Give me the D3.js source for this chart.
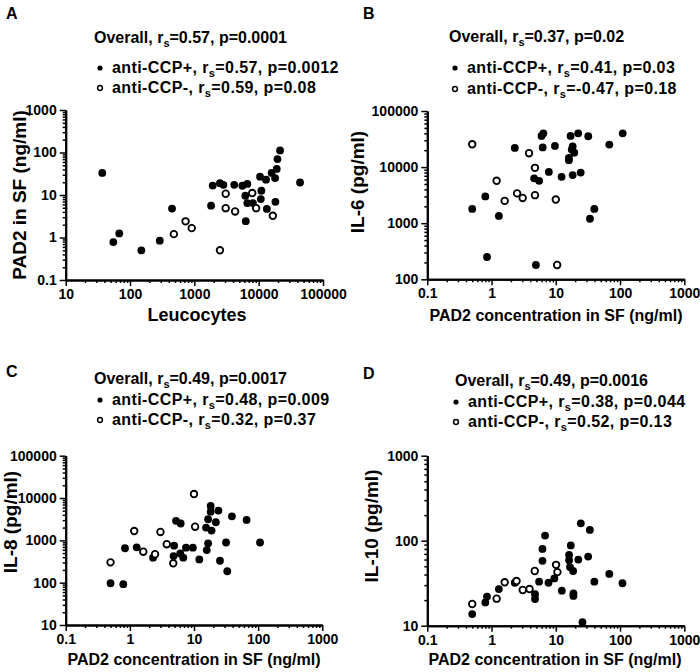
<!DOCTYPE html>
<html><head><meta charset="utf-8">
<script src="https://cdn.jsdelivr.net/npm/d3@7"></script>
<style>
body{margin:0;background:#fff;}
svg text{font-family:"Liberation Sans",Arial,sans-serif;font-weight:bold;fill:#000;}
</style></head>
<body><svg id="c" width="700" height="672"></svg>
<script>
// ---------- DATA ----------
// Panel A: Leucocytes vs PAD2 in SF
const leucoPos = [37,55,68,150,290,450,1820,1930,2500,2830,4170,5580,6660,6200,6660,8130,6300,10500,13000,11000,10800,13400,15900,18000,18200,19100,19600,21500,44000];
const padPosA  = [33,0.78,1.25,0.5,0.84,4.8,5.6,16.7,19,17.4,17.4,16.5,18.2,9.6,6.45,6.45,2.42,27,23,12.6,8.0,4.7,33,25,6.9,41,70,112,19.7];
const leucoNeg = [480,730,910,2500,3070,3070,4300,7940,9130,16600];
const padNegA  = [1.2,2.4,1.66,0.5,10.7,4.9,4.1,11.1,4.9,3.24];

// Panel B: PAD2 vs IL-6
const padPosB = [6.4,6.0,17,22.3,32,110,68,6.25,9.7,18.3,17.7,19.4,16,16,7.8,12.3,18.3,24.4,4.6,5.5,39.8,34,0.5,0.8,0.85,1.3,2.3,4.9];
const il6Pos  = [40000,36000,36000,40000,35500,40000,25200,22400,23800,23500,20500,18100,14600,13300,8200,6700,7200,8000,6300,5700,1800,1200,1800,3000,250,1350,22000,180];
const padNegB = [0.5,1.2,1.6,2.5,3.05,3.83,4.74,4.74,10,10.5];
const il6Neg  = [25500,5700,2500,3400,2820,17700,9700,3160,2640,180];

// Panel C: PAD2 vs IL-8
const padPosC = [0.5,0.79,0.84,1.28,2.3,4.9,4.8,5.25,6.2,6.1,6.8,7.5,9.6,12.1,15.4,18.2,18.2,24,16.6,21.9,18.8,16.6,15.8,25.4,33,31.6,39,66,107];
const il8Pos  = [97,92,650,686,390,750,426,2900,2500,490,390,670,670,355,2000,6500,4750,5050,3150,2680,1700,850,590,330,186,890,3700,3030,890];
const padNegC = [10,1.17,3.0,10.4,3.76,1.62,2.47,0.5,4.75];
const il8Neg  = [12400,1660,1580,2100,810,540,470,302,287];

// Panel D: PAD2 vs IL-10
const padPosD = [0.5,0.8,0.85,1.3,2.3,4.75,4.75,5.5,6.2,6.2,6.8,7.7,9.5,12.4,16.1,16.1,17.1,16.6,18.6,18.8,18.8,22.4,24.5,26,31.9,33.9,39.8,68,109];
const il10Pos = [13.7,18.8,22,27,32,23.5,20.6,33,58,80,115,32,36,25.8,68,59,88,49,44,24,22.4,60,160,11,65,134,33,40.7,31.6];
const padNegD = [0.5,1.2,1.6,2.45,3.06,3.9,4.7,10.1,10.6];
const il10Neg = [18,20.8,32.4,33.5,26.3,27,44,52,42.7];

// Annotations
const panelLetters = ["A","B","C","D"];
const overallStats = [["0.57","0.0001"],["0.37","0.02"],["0.49","0.0017"],["0.49","0.0016"]];
const posStats = [["0.57","0.0012"],["0.41","0.03"],["0.48","0.009"],["0.38","0.044"]];
const negStats = [["0.59","0.08"],["-0.47","0.18"],["0.32","0.37"],["0.52","0.13"]];
const xTitles = ["Leucocytes","PAD2 concentration in SF (ng/ml)","PAD2 concentration in SF (ng/ml)","PAD2 concentration in SF (ng/ml)"];
const yTitles = ["PAD2 in SF (ng/ml)","IL-6 (pg/ml)","IL-8 (pg/ml)","IL-10 (pg/ml)"];
const xDomains = [[10,100000],[0.1,1000],[0.1,1000],[0.1,1000]];
const yDomains = [[0.1,1000],[100,100000],[10,100000],[10,1000]];

// ---------- LAYOUT ----------
const layout = [
  {x0:65.7,x1:323,y0:280,y1:110, letter:[6,19], title:[94,43], leg:[100,68,88], ytitle:[26,195], xtitle:[197,321], xfs:18},
  {x0:427.3,x1:684.3,y0:279.3,y1:111, letter:[363,19], title:[449,42], leg:[455,68,89], ytitle:[364,182], xtitle:[556,321], xfs:16},
  {x0:65.7,x1:322.3,y0:625,y1:455.7, letter:[6,377], title:[94,384], leg:[100,400,420], ytitle:[17,522], xtitle:[194,665], xfs:16},
  {x0:427.3,x1:684.3,y0:625.7,y1:455.7, letter:[363,379], title:[455,386], leg:[456,402,422], ytitle:[378,526], xtitle:[555,665], xfs:16}
];
const dataSets = [
  {px:leucoPos,py:padPosA,nx:leucoNeg,ny:padNegA},
  {px:padPosB,py:il6Pos,nx:padNegB,ny:il6Neg},
  {px:padPosC,py:il8Pos,nx:padNegC,ny:il8Neg},
  {px:padPosD,py:il10Pos,nx:padNegD,ny:il10Neg}
];

const svg = d3.select("#c");
const fmt = d3.format("~g");

function decades(dom){const a=[];for(let v=dom[0];v<=dom[1]*1.0001;v*=10)a.push(+v.toPrecision(6));return a;}
function minors(dom){const a=[];for(let v=dom[0];v<dom[1]*0.999;v*=10){for(let k=2;k<=9;k++)a.push(+(v*k).toPrecision(6));}return a;}

function statText(g, x, y, prefix, r, p, ls){
  const t = g.append("text").attr("x",x).attr("y",y).attr("font-size",16).attr("letter-spacing",ls||0);
  t.append("tspan").text(prefix+"r");
  t.append("tspan").attr("font-size",11).attr("dy",4).text("s");
  t.append("tspan").attr("dy",-4).text("="+r+", p="+p);
  return t;
}

layout.forEach((L,i)=>{
  const g = svg.append("g");
  const x = d3.scaleLog().domain(xDomains[i]).range([L.x0,L.x1]);
  const y = d3.scaleLog().domain(yDomains[i]).range([L.y0,L.y1]);

  // axes
  g.append("g").attr("transform",`translate(0,${L.y0})`)
    .call(d3.axisBottom(x).tickValues(decades(xDomains[i])).tickFormat(fmt).tickSize(6).tickSizeOuter(0).tickPadding(3));
  g.append("g").attr("transform",`translate(0,${L.y0})`)
    .call(d3.axisBottom(x).tickValues(minors(xDomains[i])).tickFormat("").tickSize(3).tickSizeOuter(0));
  g.append("g").attr("transform",`translate(${L.x0},0)`)
    .call(d3.axisLeft(y).tickValues(decades(yDomains[i])).tickFormat(fmt).tickSize(6).tickSizeOuter(0).tickPadding(3));
  g.append("g").attr("transform",`translate(${L.x0},0)`)
    .call(d3.axisLeft(y).tickValues(minors(yDomains[i])).tickFormat("").tickSize(3).tickSizeOuter(0));
  g.selectAll(".domain").attr("stroke","#000").attr("stroke-width",2);
  g.selectAll(".tick line").attr("stroke","#000").attr("stroke-width",1.5);
  g.selectAll("g").attr("font-family",null).attr("font-size",null);
  g.selectAll(".tick text").attr("font-size",14).attr("fill","#000");

  // points
  const ds = dataSets[i];
  g.selectAll("circle.pos").data(ds.px.map((v,k)=>[v,ds.py[k]])).join("circle").attr("class","pos")
    .attr("cx",d=>x(d[0])).attr("cy",d=>y(d[1])).attr("r",3.9).attr("fill","#000");
  g.selectAll("circle.neg").data(ds.nx.map((v,k)=>[v,ds.ny[k]])).join("circle").attr("class","neg")
    .attr("cx",d=>x(d[0])).attr("cy",d=>y(d[1])).attr("r",3.3).attr("fill","#fff").attr("stroke","#000").attr("stroke-width",1.8);

  // titles
  g.append("text").attr("x",L.letter[0]).attr("y",L.letter[1]).attr("font-size",16).text(panelLetters[i]);
  statText(g, L.title[0], L.title[1], "Overall, ", overallStats[i][0], overallStats[i][1], 0);
  g.append("circle").attr("cx",L.leg[0]).attr("cy",L.leg[1]).attr("r",2.6).attr("fill","#000");
  g.append("circle").attr("cx",L.leg[0]).attr("cy",L.leg[2]).attr("r",2.4).attr("fill","#fff").attr("stroke","#000").attr("stroke-width",1.5);
  statText(g, L.leg[0]+12, L.leg[1]+5, "anti-CCP+, ", posStats[i][0], posStats[i][1], 0.4);
  statText(g, L.leg[0]+12, L.leg[2]+5, "anti-CCP-, ", negStats[i][0], negStats[i][1], 0.4);

  g.append("text").attr("x",L.xtitle[0]).attr("y",L.xtitle[1]).attr("text-anchor","middle").attr("font-size",L.xfs).text(xTitles[i]);
  g.append("text").attr("transform",`translate(${L.ytitle[0]},${L.ytitle[1]}) rotate(-90)`).attr("text-anchor","middle").attr("font-size",19).text(yTitles[i]);
});
</script></body></html>
